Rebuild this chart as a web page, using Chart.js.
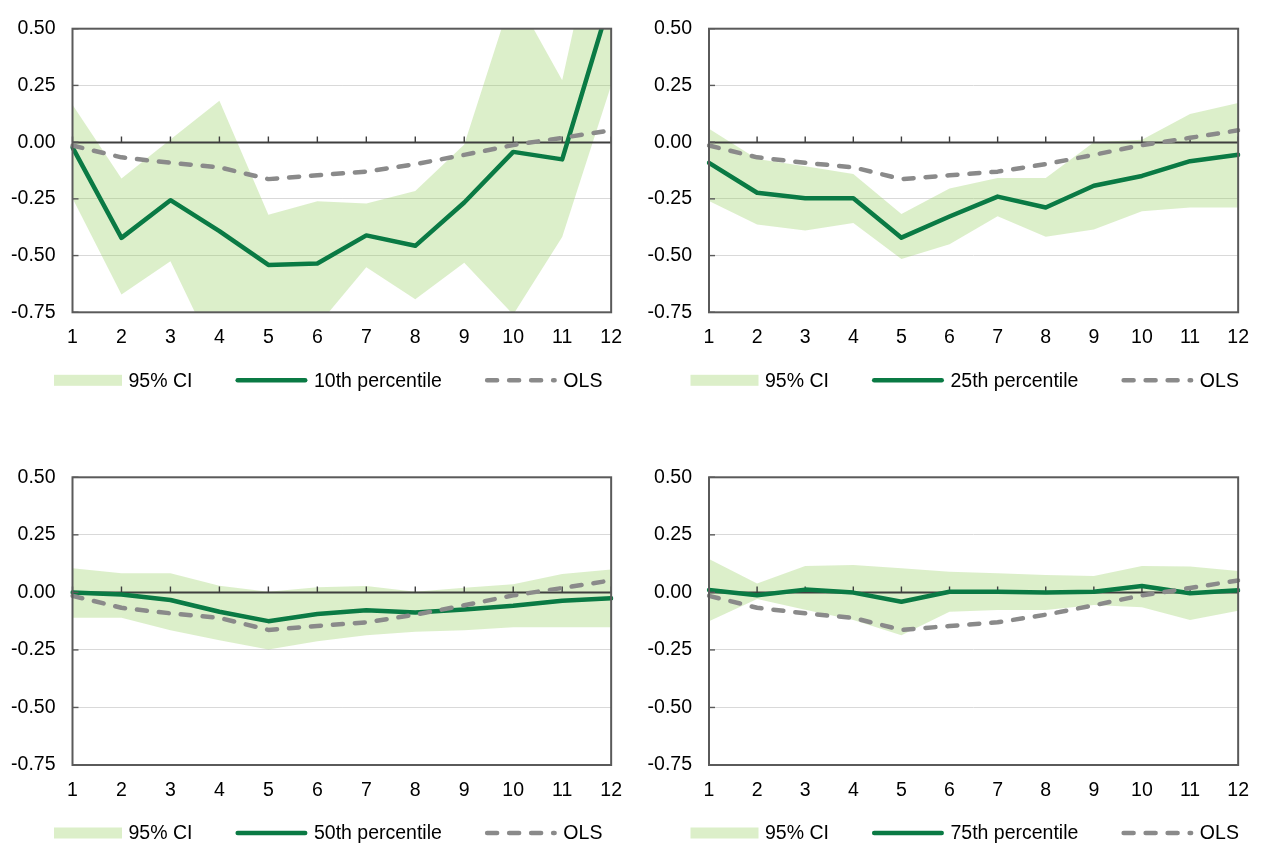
<!DOCTYPE html>
<html>
<head>
<meta charset="utf-8">
<script src="https://cdn.jsdelivr.net/npm/chart.js"></script>
<style>
  html, body { margin: 0; padding: 0; background: #ffffff; }
  body { width: 1263px; height: 844px; position: relative; overflow: hidden; }
  canvas { position: absolute; }
</style>
</head>
<body>
<canvas id="q10" width="636" height="420" style="left:0px;top:0px"></canvas>
<canvas id="q25" width="627" height="420" style="left:636px;top:0px"></canvas>
<canvas id="q50" width="636" height="404" style="left:0px;top:440px"></canvas>
<canvas id="q75" width="627" height="404" style="left:636px;top:440px"></canvas>
<script>
// Horizon (x-axis categories)
const horizons = ['1', '2', '3', '4', '5', '6', '7', '8', '9', '10', '11', '12'];

// OLS estimate, shared by every panel
const olsBeta = [-0.015, -0.067, -0.091, -0.111, -0.163, -0.146, -0.130, -0.097, -0.056, -0.013, 0.019, 0.052];

// Quantile regression estimates with 95% confidence bounds
const q10Beta  = [-0.023, -0.422, -0.256, -0.392, -0.541, -0.535, -0.411, -0.457, -0.266, -0.043, -0.076, 0.64];
const q10Upper = [0.165, -0.160, 0.012, 0.182, -0.320, -0.260, -0.270, -0.215, -0.010, 0.660, 0.273, 1.25];
const q10Lower = [-0.247, -0.671, -0.525, -0.975, -1.000, -0.810, -0.551, -0.693, -0.532, -0.760, -0.418, 0.251];

const q25Beta  = [-0.091, -0.223, -0.247, -0.247, -0.421, -0.328, -0.240, -0.288, -0.192, -0.149, -0.084, -0.056];
const q25Upper = [0.059, -0.074, -0.106, -0.140, -0.317, -0.204, -0.158, -0.158, 0.000, 0.010, 0.124, 0.172];
const q25Lower = [-0.259, -0.363, -0.389, -0.356, -0.515, -0.450, -0.327, -0.417, -0.385, -0.305, -0.288, -0.288];

const q50Beta  = [0.000, -0.009, -0.033, -0.084, -0.125, -0.094, -0.078, -0.087, -0.074, -0.058, -0.036, -0.026];
const q50Upper = [0.105, 0.083, 0.083, 0.029, 0.003, 0.022, 0.028, 0.003, 0.020, 0.035, 0.080, 0.099];
const q50Lower = [-0.110, -0.110, -0.164, -0.208, -0.248, -0.212, -0.186, -0.171, -0.164, -0.152, -0.152, -0.152];

const q75Beta  = [0.010, -0.012, 0.012, -0.001, -0.041, 0.003, 0.003, -0.001, 0.003, 0.028, -0.004, 0.009];
const q75Upper = [0.145, 0.039, 0.115, 0.119, 0.105, 0.090, 0.083, 0.075, 0.071, 0.115, 0.112, 0.093];
const q75Lower = [-0.125, -0.029, -0.075, -0.120, -0.186, -0.084, -0.077, -0.077, -0.055, -0.065, -0.120, -0.080];

// Y-axis range and tick step
const yMin = -0.75, yMax = 0.5, yStep = 0.25;

const GREEN = '#0a7a44';
const GREY = '#8a8a8a';
const BAND = 'rgba(146, 204, 90, 0.32)';
const BAND_SOLID = '#dcefc9';
const FONT = '"Liberation Sans", Arial, Helvetica, sans-serif';
const FONT_SIZE = 19.5;
const OLS_DASH = [10, 12];

Chart.defaults.font.family = FONT;
Chart.defaults.color = '#000000';

// Zero line with upward tick marks (drawn right above the confidence band),
// then the plot frame and inner y tick marks after all series
const framePlugin = {
  id: 'frame',
  afterDatasetDraw(chart, args) {
    if (args.index !== 0) return;
    const { ctx, chartArea: a, scales: { x, y } } = chart;
    const y0 = Math.round(y.getPixelForValue(0)) + 0.5;
    ctx.save();
    ctx.strokeStyle = '#3f3f3f';
    ctx.lineWidth = 1.8;
    ctx.beginPath();
    ctx.moveTo(a.left, y0);
    ctx.lineTo(a.right, y0);
    ctx.stroke();
    ctx.lineWidth = 1.4;
    x.ticks.forEach((t, i) => {
      const px = x.getPixelForTick(i);
      ctx.beginPath();
      ctx.moveTo(px, y0);
      ctx.lineTo(px, y0 - 6);
      ctx.stroke();
    });
    ctx.restore();
  },
  afterDatasetsDraw(chart) {
    const { ctx, chartArea: a, scales: { y } } = chart;
    ctx.save();
    ctx.strokeStyle = '#5a5a5a';
    ctx.lineWidth = 1.4;
    y.ticks.forEach((t, i) => {
      const py = y.getPixelForTick(i);
      ctx.beginPath();
      ctx.moveTo(a.left, py);
      ctx.lineTo(a.left + 6, py);
      ctx.stroke();
    });
    ctx.lineWidth = 2;
    ctx.strokeRect(a.left, a.top, a.right - a.left, a.bottom - a.top);
    ctx.restore();
  }
};

// Legend row under the plot: swatch followed by its label, left to right
const legendPlugin = {
  id: 'swatchLegend',
  afterDraw(chart, args, opts) {
    const { ctx, chartArea: a } = chart;
    const cy = a.bottom + opts.offsetY;
    let x = a.left + opts.offsetX;
    ctx.save();
    ctx.font = FONT_SIZE + 'px ' + FONT;
    ctx.textBaseline = 'middle';
    ctx.textAlign = 'left';
    opts.items.forEach(item => {
      if (item.kind === 'band') {
        ctx.fillStyle = BAND_SOLID;
        ctx.fillRect(x, cy - 5.5, opts.bandWidth, 11);
        x += opts.bandWidth;
      } else {
        ctx.strokeStyle = item.color;
        ctx.lineWidth = 4.5;
        ctx.lineCap = 'round';
        ctx.setLineDash(item.dash || []);
        ctx.beginPath();
        ctx.moveTo(x + 2.25, cy);
        ctx.lineTo(x + opts.lineWidth - 2.25, cy);
        ctx.stroke();
        ctx.setLineDash([]);
        x += opts.lineWidth;
      }
      x += opts.textGap;
      ctx.fillStyle = '#000';
      ctx.fillText(item.text, x, cy + 1);
      x += ctx.measureText(item.text).width + opts.itemGap;
    });
    ctx.restore();
  }
};

const panels = [
  { id: 'q10', name: '10th percentile', beta: q10Beta, upper: q10Upper, lower: q10Lower },
  { id: 'q25', name: '25th percentile', beta: q25Beta, upper: q25Upper, lower: q25Lower },
  { id: 'q50', name: '50th percentile', beta: q50Beta, upper: q50Upper, lower: q50Lower },
  { id: 'q75', name: '75th percentile', beta: q75Beta, upper: q75Upper, lower: q75Lower }
];

// Canvas-level spacing for each panel (padding, axis box sizes)
const frames = {
  q10: { pad: { left: 0, right: 22.5, top: 24.7, bottom: 68.7 }, yW: 72.5 },
  q25: { pad: { left: 0, right: 12.5, top: 24.7, bottom: 68.7 }, yW: 73 },
  q50: { pad: { left: 0, right: 22, top: 37.3, bottom: 40 }, yW: 72.5 },
  q75: { pad: { left: 0, right: 12.5, top: 37.3, bottom: 40 }, yW: 73 }
};
const X_AXIS_HEIGHT = 39;

panels.forEach(p => {
  const f = frames[p.id];
  new Chart(document.getElementById(p.id), {
    type: 'line',
    data: {
      labels: horizons,
      datasets: [
        { label: '95% CI', data: p.upper, fill: '+1', backgroundColor: BAND, borderWidth: 0, pointRadius: 0, order: 3 },
        { label: '95% CI lower', data: p.lower, fill: false, borderWidth: 0, pointRadius: 0, order: 4 },
        { label: p.name, data: p.beta, borderColor: GREEN, borderWidth: 4.5, pointRadius: 0,
          borderJoinStyle: 'round', borderCapStyle: 'round', tension: 0, order: 1 },
        { label: 'OLS', data: olsBeta, borderColor: GREY, borderWidth: 4.5, pointRadius: 0,
          borderDash: OLS_DASH, borderCapStyle: 'round', borderJoinStyle: 'round', tension: 0, order: 0 }
      ]
    },
    options: {
      responsive: false,
      animation: false,
      devicePixelRatio: 1,
      layout: { padding: f.pad },
      scales: {
        x: {
          type: 'category',
          offset: false,
          grid: { display: false, drawTicks: false },
          border: { display: false },
          ticks: { font: { size: FONT_SIZE }, color: '#000', padding: 14, maxRotation: 0, autoSkip: false },
          afterFit(scale) { scale.height = X_AXIS_HEIGHT; }
        },
        y: {
          min: yMin,
          max: yMax,
          grid: { color: '#d9d9d9', lineWidth: 1, drawTicks: false },
          border: { display: false },
          ticks: {
            stepSize: yStep,
            font: { size: FONT_SIZE },
            color: '#000',
            padding: 17,
            callback: v => v.toFixed(2)
          },
          afterFit(scale) { scale.width = f.yW; }
        }
      },
      plugins: {
        tooltip: { enabled: false },
        legend: { display: false },
        swatchLegend: {
          offsetX: -18.5,
          offsetY: 68,
          bandWidth: 68,
          lineWidth: 72,
          textGap: 6.5,
          itemGap: 43,
          items: [
            { kind: 'band', text: '95% CI' },
            { kind: 'line', text: p.name, color: GREEN },
            { kind: 'line', text: 'OLS', color: GREY, dash: OLS_DASH }
          ]
        }
      }
    },
    plugins: [framePlugin, legendPlugin]
  });
});
</script>
</body>
</html>
